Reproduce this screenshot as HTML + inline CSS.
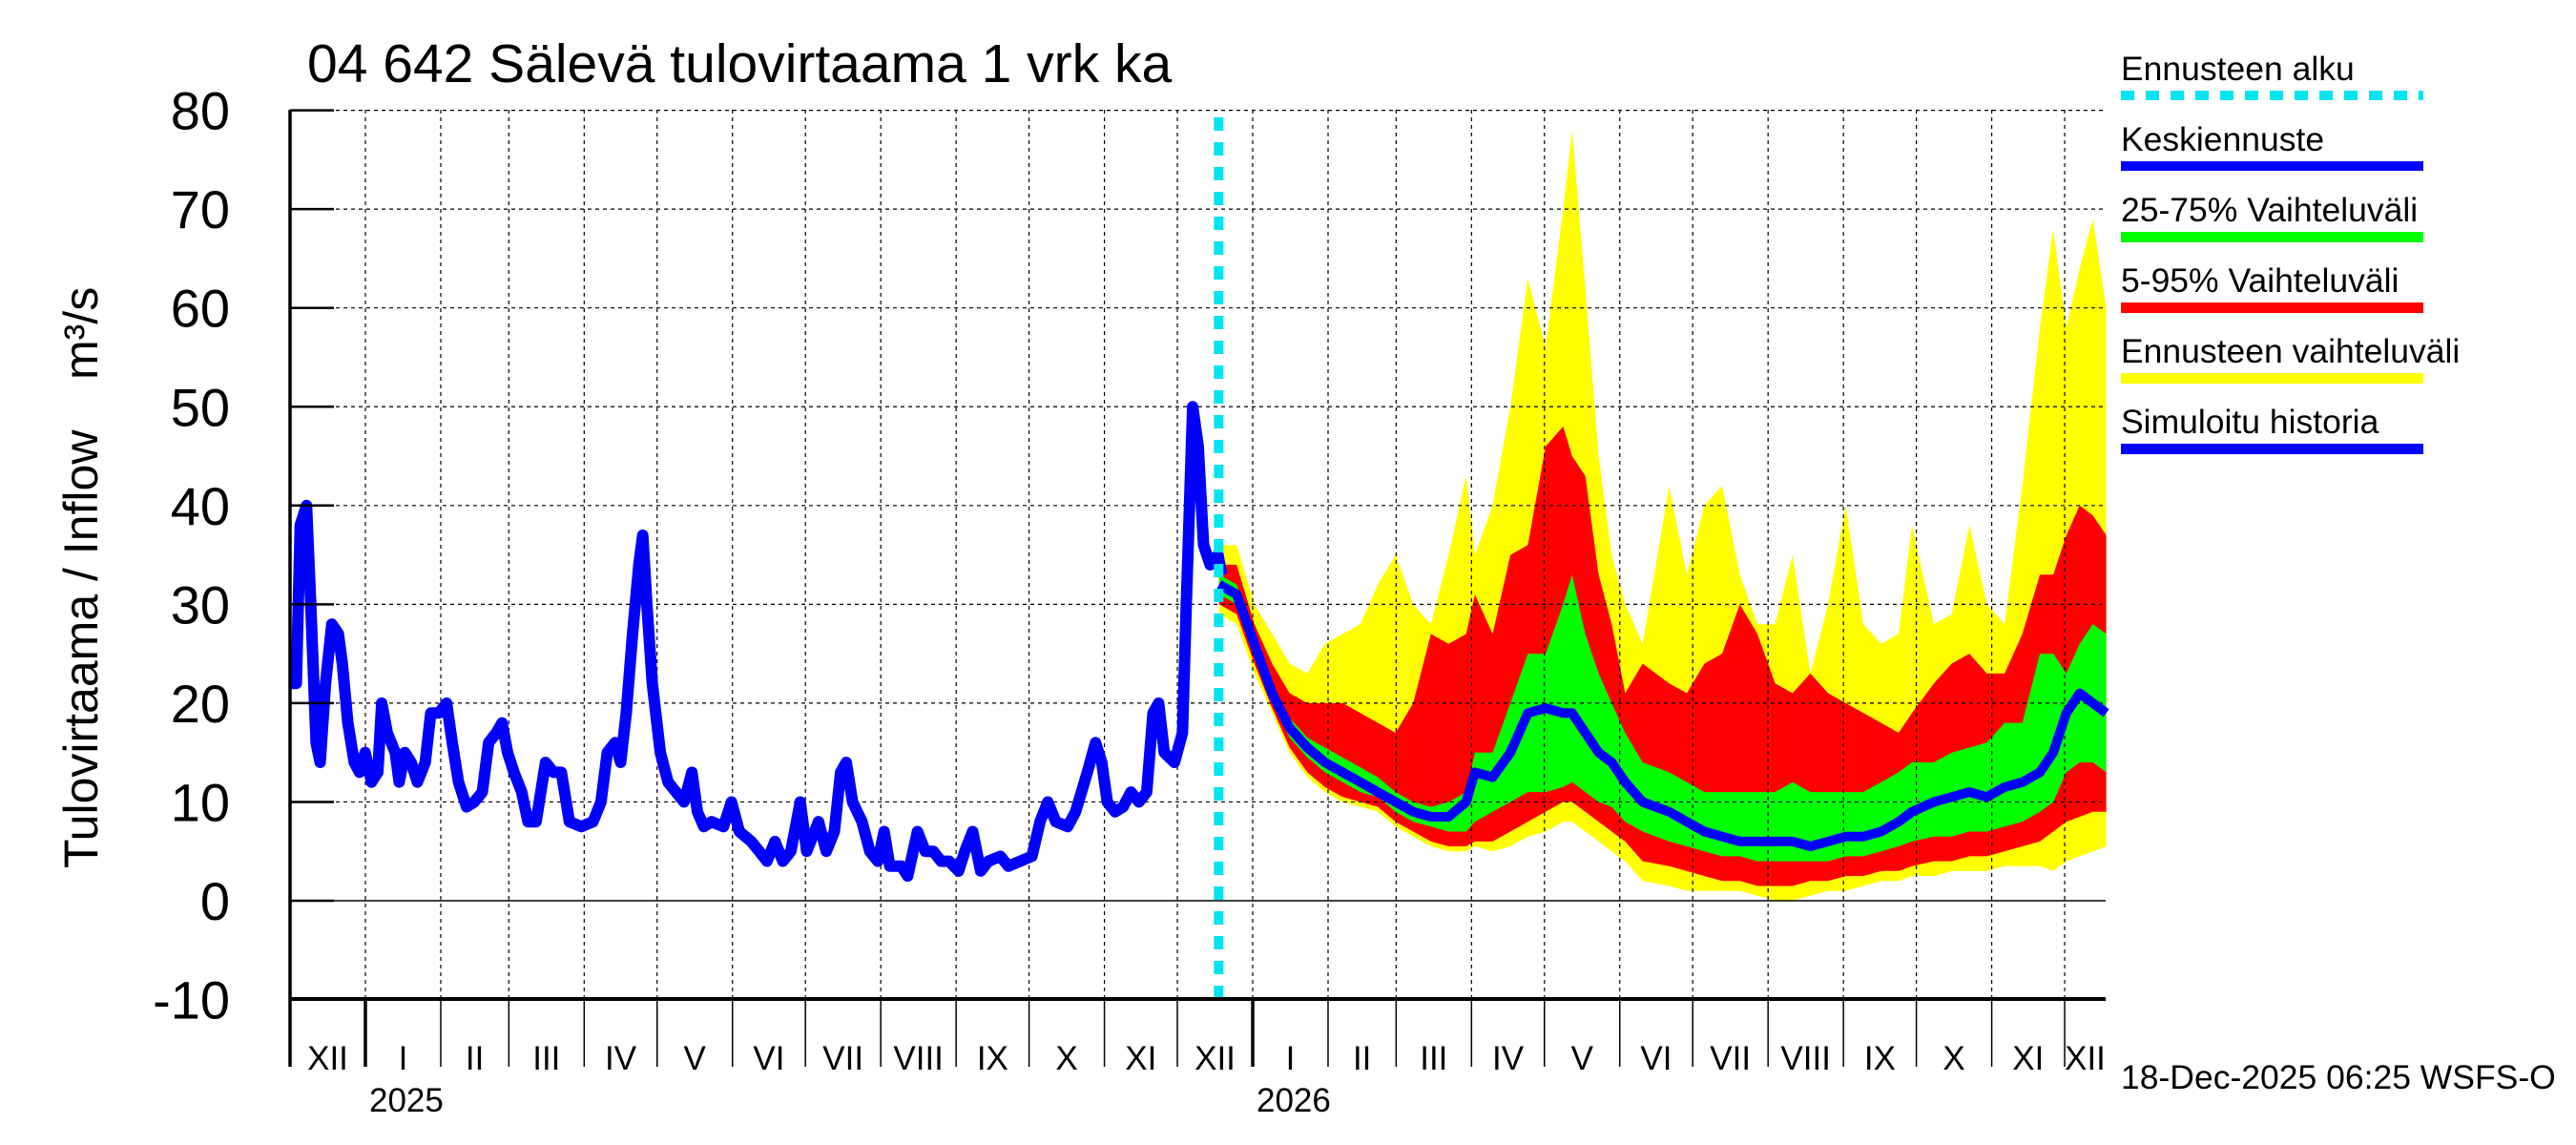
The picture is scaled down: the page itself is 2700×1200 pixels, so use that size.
<!DOCTYPE html>
<html><head><meta charset="utf-8"><style>
html,body{margin:0;padding:0;background:#fff;}
svg{display:block;font-family:"Liberation Sans",sans-serif;}
</style></head><body>
<svg id="chart" width="2700" height="1200" viewBox="0 0 2700 1200" xmlns="http://www.w3.org/2000/svg">
<rect x="0" y="0" width="2700" height="1200" fill="#fff"/>
<text x="322" y="86" font-size="57">04 642 Sälevä tulovirtaama 1 vrk ka</text>
<text transform="translate(102,910) rotate(-90)" font-size="50"><tspan>Tulovirtaama / Inflow</tspan><tspan x="512">m³/s</tspan></text>
<g id="fills"></g><g id="grid"></g><g id="lines"></g><g id="axes"></g>
<g font-size="35.5">
<text x="2223" y="84">Ennusteen alku</text>
<line x1="2223" y1="100" x2="2540" y2="100" stroke="#00e5f0" stroke-width="10" stroke-dasharray="14,12"/>
<text x="2223" y="158">Keskiennuste</text>
<rect x="2223" y="169" width="317" height="10" fill="#0000ff"/>
<text x="2223" y="232">25-75% Vaihteluväli</text>
<rect x="2223" y="243" width="317" height="11" fill="#00ff00"/>
<text x="2223" y="306">5-95% Vaihteluväli</text>
<rect x="2223" y="317" width="317" height="11" fill="#ff0000"/>
<text x="2223" y="380">Ennusteen vaihteluväli</text>
<rect x="2223" y="391" width="317" height="11" fill="#ffff00"/>
<text x="2223" y="454">Simuloitu historia</text>
<rect x="2223" y="465" width="317" height="11" fill="#0000ff"/>
</g>
<text x="2223" y="1141" font-size="35.5">18-Dec-2025 06:25 WSFS-O</text>
</svg>
<script>
// ---- data (day offsets from 2024-12-01) ----
const histDays=[0,2.6,4.2,6.8,8.5,10.7,12.4,14.6,17.2,19.9,21.5,23.8,26.4,28.6,30.9,33.5,36.1,37.7,40,43.3,44.9,47.2,49.8,52.4,55.6,57.9,61.2,64.4,66.7,69.3,72.6,75.8,79.1,81.7,84.9,87.2,89.5,92.1,95.3,97.9,101.2,105.1,108.4,111.6,114.9,119.8,124.6,127.9,130.5,133.7,136,138.3,140.9,143.5,145.1,146.8,149,152.3,155.5,158.8,162.1,165.3,167.6,170.2,173.4,178.3,181.6,184.8,189.7,193,196.2,199.5,202.7,206,209.9,212.5,217.4,220.6,223.9,226.5,228.8,231.4,235.3,238.5,241.8,244.4,246.7,251.5,254.1,258.1,261.3,264.6,267.8,271.1,275,277.6,280.8,284.1,287.3,292.2,295.5,300.3,305.2,308.5,311.7,315,319.9,323.1,328,331.3,333.9,336.2,339.4,342.7,345.9,349.2,352.4,355,357.3,359.6,363.8,367.1,368.7,371.3,373.6,375.8,378.5,381.7,383.3];
const histVals=[22,22,38,40,30,16,14,22,28,27,24,18,14,13,15,12,13,20,17,15,12,15,14,12,14,19,19,20,16,12,9.5,10,11,16,17,18,15,13,11,8,8,14,13,13,8,7.5,8,10,15,16,14,19,27,34,37,30,22,15,12,11,10,13,9,7.5,8,7.5,10,7,6,5,4,6,4,5,10,5,8,5,7,13,14,10,8,5,4,7,3.5,3.5,2.5,7,5,5,4,4,3,5,7,3,4,4.5,3.5,4,4.5,8,10,8,7.5,9,13,16,14,10,9,9.5,11,10,11,19,20,15,14,17,30,50,46,36,34,35,33];
const fcDays=[382.2,389.4,396.7,404,411.2,418.5,425.7,433,440.3,447.5,454.8,462,469.3,476.6,483.8,487.4,494.7,502,509.2,516.5,523.7,527.4,532.8,538.3,543.7,549.2,556.4,567.3,574.6,581.8,589.1,596.4,603.6,610.9,618.1,625.4,632.7,639.9,647.2,654.5,661.7,667.2,676.2,683.5,690.8,698,705.3,712.6,719.8,725.3,730.7,736.2,741.6,747.1];
const fcMedian=[32,31,26,21,17.5,15.5,14,13,12,11,10,9,8.5,8.5,10,13,12.5,15,19,19.5,19,19,17,15,14,12,10,9,8,7,6.5,6,6,6,6,5.5,6,6.5,6.5,7,8,9,10,10.5,11,10.5,11.5,12,13,15,19,21,20,19];
const fcP25=[31,30,25,20,16.5,14.5,13,12,11,10.5,9,8,7.5,7,7,8,9,10,11,11,11.5,12,11,10,9.5,8,7,6,5.5,5,4.5,4.5,4,4,4,4,4,4.5,4.5,5,5.5,6,6.5,6.5,7,7,7.5,8,9,10,13,14,14,13];
const fcP75=[33,32,27,22,18.5,16.5,15.5,14.5,13.5,12.5,11,10,9.5,10,11,15,15,20,25,25,30,33,27,23,20,17,14,13,12,11,11,11,11,11,12,11,11,11,11,12,13,14,14,15,15.5,16,18,18,25,25,23,26,28,27];
const fcP5=[30,29,24,19.5,15.5,13,11.5,10.5,10,9.5,8,7,6,5.5,5.5,6,6,7,8,9,10,10,9,8,7,6,4,3.5,3,2.5,2,2,1.5,1.5,1.5,2,2,2.5,2.5,3,3,3.5,4,4,4.5,4.5,5,5.5,6,7,8,8.5,9,9];
const fcP95=[34,34,28,24,21,20,20,20,19,18,17,20,27,26,27,31,27,35,36,46,48,45,43,33,28,21,24,22,21,24,25,30,27,22,21,23,21,20,19,18,17,19,22,24,25,23,23,27,33,33,37,40,39,37];
const fcMin=[29,28,23,19,15,12.5,11,10,9.5,9,7.5,6.5,5.5,5,5,5.5,5,5.5,6.5,7,8,8,7,6,5,4,2,1.5,1,1,1,1,0.5,0,0,0.5,1,1,1.5,2,2,2.5,2.5,3,3,3,3.5,3.5,3.5,3,4,4.5,5,5.5];
const fcMax=[36,36,30,27,24,23,26,27,28,32,35,30,28,35,43,35,40,50,63,56,70,78,62,45,35,30,26,42,33,40,42,33,28,28,35,23,30,40,28,26,27,38,28,29,38,30,28,42,58,68,58,64,69,60];
const yTicks=[-10,0,10,20,30,40,50,60,70,80];
const monthNames=["I","II","III","IV","V","VI","VII","VIII","IX","X","XI","XII"];
const forecastStartDay=382;

// ---- scales ----
const X0=304,X1=2207,PXD=2.548,YTOP=115,YBOT=1047;
function x(d){return X0+d*PXD;}
function y(v){return 944-v*10.355;}
const NS="http://www.w3.org/2000/svg";
function mk(tag,parent,attrs){const e=document.createElementNS(NS,tag);for(const k in attrs)e.setAttribute(k,attrs[k]);parent.appendChild(e);return e;}
const fills=document.getElementById('fills'),grid=document.getElementById('grid'),lines=document.getElementById('lines'),axes=document.getElementById('axes');

function band(lo,hi,color,name){
  let d="M"+fcDays.map((t,i)=>x(t).toFixed(1)+","+y(hi[i]).toFixed(1)).join("L");
  for(let i=fcDays.length-1;i>=0;i--)d+="L"+x(fcDays[i]).toFixed(1)+","+y(lo[i]).toFixed(1);
  const p=mk('path',fills,{d:d+"Z",fill:color});
  
  
}
band(fcMin,fcMax,"#ffff00","forecast-range-band");
band(fcP5,fcP95,"#ff0000","band-5-95");
band(fcP25,fcP75,"#00ff00","band-25-75");

// grid
const base=new Date(2024,11,1);
function dayOf(yr,m){return Math.round((new Date(yr,m,1)-base)/86400000);}
yTicks.forEach(v=>{
  if(v===-10)return;
  const l=mk('line',grid,{x1:X0,x2:X1,y1:y(v),y2:y(v),stroke:"#000","stroke-width":v===0?1.5:1.2,"stroke-dasharray":v===0?"none":"4,4"});
  
  
});
const months=[];
for(let yr=2024;yr<=2026;yr++)for(let m=0;m<12;m++){const d=dayOf(yr,m);if(d>=0&&X0+d*PXD<X1)months.push({yr,m,d});}
months.forEach((mo,i)=>{
  const px=x(mo.d);
  if(mo.d>0){
    const g=mk('line',grid,{x1:px,x2:px,y1:YTOP,y2:YBOT,stroke:"#000","stroke-width":1.2,"stroke-dasharray":"4,4"});
    
    
  }
  const isYear=mo.m===0;
  const t=mk('line',axes,{x1:px,x2:px,y1:YBOT,y2:1118,stroke:"#000","stroke-width":isYear?3.5:1.5});
  
  
  const nd=i+1<months.length?months[i+1].d:(X1-X0)/PXD;
  const cx=(x(mo.d)+Math.min(x(nd),X1+10))/2;
  const lb=mk('text',axes,{x:cx,y:1121,"text-anchor":"middle","font-size":35});
  lb.textContent=monthNames[mo.m];
  
  
  if(isYear){
    const yl=mk('text',axes,{x:px+4,y:1165,"font-size":35});
    yl.textContent=String(mo.yr);
    
    
  }
});

// lines
const med=mk('polyline',lines,{points:fcDays.map((t,i)=>x(t).toFixed(1)+","+y(fcMedian[i]).toFixed(1)).join(" "),fill:"none",stroke:"#0000ff","stroke-width":10,"stroke-linejoin":"round"});


const hist=mk('polyline',lines,{points:histDays.map((t,i)=>x(t).toFixed(1)+","+y(histVals[i]).toFixed(1)).join(" "),fill:"none",stroke:"#0000ff","stroke-width":12,"stroke-linejoin":"round"});


const fs=mk('line',lines,{x1:x(forecastStartDay),x2:x(forecastStartDay),y1:123,y2:YBOT,stroke:"#00e5f0","stroke-width":10,"stroke-dasharray":"14,12"});



// axes
const ya=mk('line',axes,{x1:X0,x2:X0,y1:YTOP,y2:1118,stroke:"#000","stroke-width":3.5});


const xa=mk('line',axes,{x1:X0,x2:X1,y1:YBOT,y2:YBOT,stroke:"#000","stroke-width":4});


yTicks.forEach(v=>{
  const tk=mk('line',axes,{x1:X0,x2:350,y1:y(v),y2:y(v),stroke:"#000","stroke-width":2.5});
  
  
  const tl=mk('text',axes,{x:241,y:y(v)+20,"text-anchor":"end","font-size":56});
  tl.textContent=String(v);
  
  
});
</script>
</body></html>
